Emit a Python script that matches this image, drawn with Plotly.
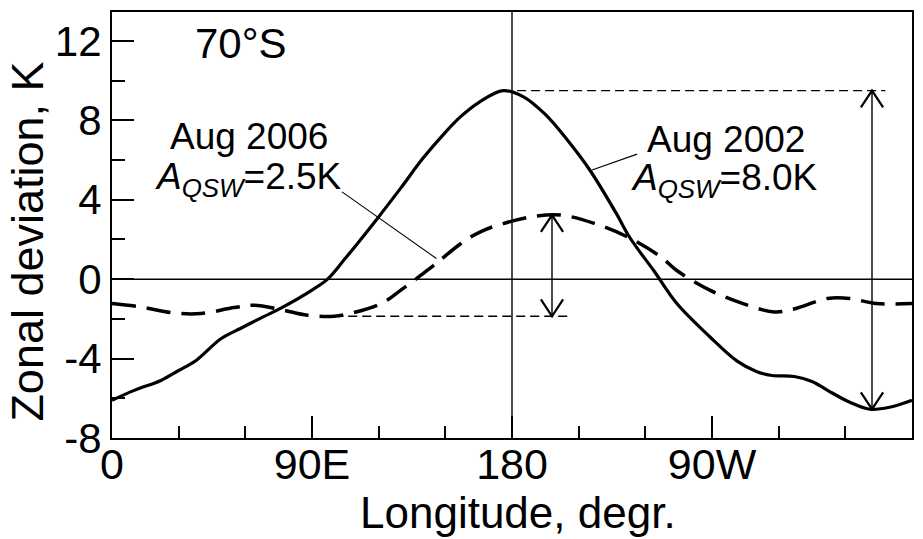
import plotly.graph_objects as go

# ---------------- data ----------------
lon_2002 = [0, 10, 22, 30, 38, 49, 58, 68, 76, 90, 97, 105, 119, 130, 140, 150, 157, 165,
            176, 185, 195, 205, 215, 227, 233, 244, 254, 269, 281, 290, 297, 307, 315, 322,
            332, 341, 350, 360]
dev_2002 = [-6.1, -5.6, -5.1, -4.6, -4.08, -3.0, -2.47, -1.9, -1.46, -0.55, 0.0, 1.05, 3.0,
            4.6, 6.1, 7.4, 8.2, 8.9, 9.5, 9.2, 8.3, 7.0, 5.5, 3.3, 2.1, 0.4, -1.2, -2.9, -4.1,
            -4.65, -4.85, -4.9, -5.15, -5.6, -6.2, -6.55, -6.45, -6.1]

lon_2006 = [0, 13, 28, 40, 55, 64, 76, 88, 100, 107, 121, 130, 139, 146, 157, 166, 176, 191,
            202, 217, 232, 247, 254, 269, 284, 298, 307, 322, 332, 344, 360]
dev_2006 = [-1.23, -1.4, -1.7, -1.73, -1.43, -1.31, -1.53, -1.82, -1.87, -1.73, -1.23, -0.55,
            0.2, 0.8, 1.8, 2.4, 2.8, 3.18, 3.23, 2.81, 2.13, 1.12, 0.45, -0.55, -1.23, -1.65,
            -1.5, -0.97, -0.97, -1.23, -1.23]

x_tickvals = [0, 90, 180, 270, 360]
x_ticktext = ["0", "90E", "180", "90W", "0"]
y_tickvals = [-8, -4, 0, 4, 8, 12]
y_ticktext = ["-8", "-4", "0", "4", "8", "12"]

arrow_lon_2002 = 342
arrow_lon_2006 = 198
ref_end_2002 = 348
ref_end_2006 = 205

title_2002 = "Aug 2002"
amp_2002 = "<i>A<sub>QSW</sub></i>=8.0K"
title_2006 = "Aug 2006"
amp_2006 = "<i>A<sub>QSW</sub></i>=2.5K"
label_lat = "70°S"
# leader lines (text end -> curve)
leader_2006_lon = [103.5, 146]
leader_2006_val = [4.4, 1.04]
leader_2002_lon = [236.3, 216]
leader_2002_val = [6.3, 5.5]

# ---------------- style ----------------
FONT = "Liberation Sans, Arial, Helvetica, sans-serif"
HEAD_DX = 5.0     # deg
HEAD_DY = 0.85    # K
THIN = 1.4
ANN = 37

fig = go.Figure()

# reference lines
fig.add_hline(y=0, line=dict(color="black", width=THIN))
fig.add_vline(x=180, line=dict(color="black", width=THIN))

# curves
fig.add_trace(go.Scatter(x=lon_2006, y=dev_2006, mode="lines", line_shape="spline",
                         line=dict(color="black", width=3.5, dash="24px,11px"),
                         showlegend=False))
fig.add_trace(go.Scatter(x=lon_2002, y=dev_2002, mode="lines", line_shape="spline",
                         line=dict(color="black", width=3.2), showlegend=False))

def amp_marks(lons, vals, arrow_lon, ref_end, ref_at_max):
    vmax, vmin = max(vals), min(vals)
    if ref_at_max:
        ref_start = lons[vals.index(vmax)]
        ref_val = vmax
    else:
        ref_start = lons[vals.index(vmin)]
        ref_val = vmin
    fig.add_trace(go.Scatter(x=[ref_start, ref_end], y=[ref_val, ref_val], mode="lines",
                             line=dict(color="black", width=THIN, dash="9px,5px"),
                             showlegend=False))
    fig.add_trace(go.Scatter(x=[arrow_lon, arrow_lon], y=[vmin, vmax], mode="lines",
                             line=dict(color="black", width=THIN), showlegend=False))
    fig.add_trace(go.Scatter(x=[arrow_lon - HEAD_DX, arrow_lon, arrow_lon + HEAD_DX],
                             y=[vmax - HEAD_DY, vmax, vmax - HEAD_DY], mode="lines",
                             line=dict(color="black", width=2.2), showlegend=False))
    fig.add_trace(go.Scatter(x=[arrow_lon - HEAD_DX, arrow_lon, arrow_lon + HEAD_DX],
                             y=[vmin + HEAD_DY, vmin, vmin + HEAD_DY], mode="lines",
                             line=dict(color="black", width=2.2), showlegend=False))

amp_marks(lon_2002, dev_2002, arrow_lon_2002, ref_end_2002, True)
amp_marks(lon_2006, dev_2006, arrow_lon_2006, ref_end_2006, False)

# leader lines
fig.add_trace(go.Scatter(x=leader_2006_lon, y=leader_2006_val, mode="lines",
                         line=dict(color="black", width=1.1), showlegend=False))
fig.add_trace(go.Scatter(x=leader_2002_lon, y=leader_2002_val, mode="lines",
                         line=dict(color="black", width=1.1), showlegend=False))

def txt(x, y, s, size):
    fig.add_annotation(x=x, y=y, text=s, showarrow=False, xanchor="center",
                       yanchor="middle", font=dict(size=size, family=FONT, color="black"))

txt(58.2, 11.85, label_lat, 42)
txt(61.7, 7.21, title_2006, ANN)
txt(61.4, 5.05, amp_2006, ANN)
txt(276.2, 7.05, title_2002, ANN)
txt(275.5, 4.98, amp_2002, ANN)

# axis titles
fig.add_annotation(xref="paper", yref="paper", x=-0.105, y=0.461, text="Zonal deviation, K",
                   textangle=-90, showarrow=False, xanchor="center", yanchor="middle",
                   font=dict(size=45, family=FONT, color="black"))
fig.add_annotation(xref="paper", yref="paper", x=0.507, y=-0.176, text="Longitude, degr.",
                   showarrow=False, xanchor="center", yanchor="middle",
                   font=dict(size=44, family=FONT, color="black"))

fig.update_xaxes(range=[0, 360], tickvals=x_tickvals, ticktext=x_ticktext,
                 ticks="inside", ticklen=22, tickwidth=2, tickcolor="black",
                 minor=dict(ticks="inside", ticklen=12, tickwidth=2, tickcolor="black", dtick=30,
                            tick0=0),
                 showline=True, linewidth=2.2, linecolor="black", mirror=True,
                 showgrid=False, zeroline=False, automargin=False,
                 ticklabelstandoff=-13,
                 tickfont=dict(size=43, family=FONT, color="black"))
fig.update_yaxes(range=[-8, 13.46], tickvals=y_tickvals, ticktext=y_ticktext,
                 ticks="inside", ticklen=22, tickwidth=2, tickcolor="black",
                 minor=dict(ticks="inside", ticklen=13, tickwidth=2, tickcolor="black", dtick=2,
                            tick0=0),
                 showline=True, linewidth=2.2, linecolor="black", mirror=True,
                 showgrid=False, zeroline=False, automargin=False,
                 tickfont=dict(size=42, family=FONT, color="black"))

fig.update_layout(width=923, height=539, paper_bgcolor="white", plot_bgcolor="white",
                  margin=dict(l=112, r=11, t=12, b=101), showlegend=False)

fig.write_html("out.html", config={"displayModeBar": False},
               post_script="document.body.style.margin='0';document.body.style.padding='0';"
                           "document.body.style.overflow='hidden';")
